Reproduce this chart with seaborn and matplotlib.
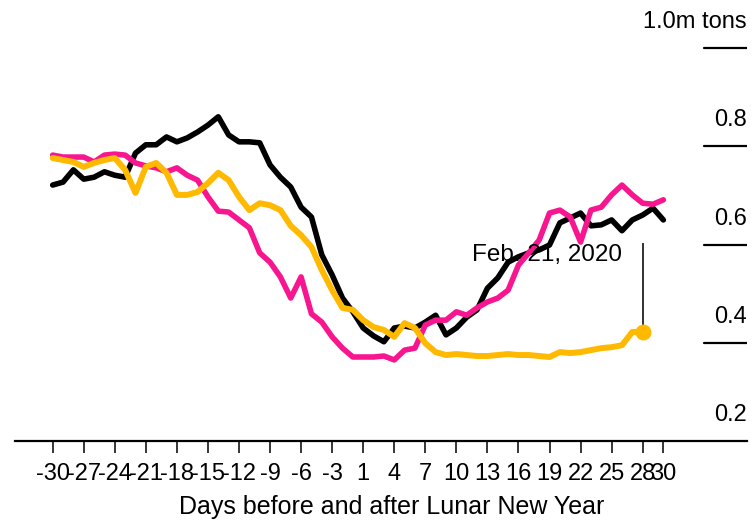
import numpy as np
import pandas as pd
import seaborn as sns
import matplotlib.pyplot as plt
import matplotlib.transforms as mtransforms

# days around Lunar New Year (there is no day 0)
days = list(range(-30, 0)) + list(range(1, 31))
pos = list(range(len(days)))

# million tons per day
black = [0.721, 0.727, 0.752, 0.733, 0.737, 0.748, 0.741, 0.737, 0.786, 0.803,
         0.803, 0.819, 0.809, 0.817, 0.829, 0.843, 0.860, 0.823, 0.809, 0.809,
         0.807, 0.762, 0.737, 0.717, 0.676, 0.656, 0.579, 0.538, 0.491, 0.463,
         0.430, 0.414, 0.402, 0.430, 0.434, 0.430, 0.442, 0.456, 0.416, 0.430,
         0.452, 0.467, 0.511, 0.532, 0.564, 0.575, 0.583, 0.589, 0.599, 0.644,
         0.654, 0.664, 0.638, 0.640, 0.650, 0.628, 0.650, 0.660, 0.674, 0.650]
magenta = [0.782, 0.778, 0.778, 0.778, 0.768, 0.782, 0.784, 0.782, 0.766, 0.760,
           0.756, 0.748, 0.756, 0.741, 0.731, 0.697, 0.668, 0.666, 0.650, 0.634,
           0.583, 0.564, 0.534, 0.491, 0.534, 0.459, 0.442, 0.412, 0.389, 0.371,
           0.371, 0.371, 0.373, 0.365, 0.385, 0.389, 0.436, 0.446, 0.446, 0.463,
           0.456, 0.471, 0.483, 0.491, 0.507, 0.558, 0.583, 0.609, 0.664, 0.670,
           0.656, 0.605, 0.670, 0.676, 0.701, 0.721, 0.701, 0.684, 0.682, 0.691]
yellow = [0.776, 0.772, 0.768, 0.758, 0.766, 0.772, 0.776, 0.752, 0.705, 0.758,
          0.766, 0.746, 0.701, 0.701, 0.707, 0.725, 0.746, 0.731, 0.697, 0.670,
          0.684, 0.680, 0.670, 0.638, 0.619, 0.595, 0.548, 0.507, 0.471, 0.467,
          0.446, 0.432, 0.426, 0.412, 0.440, 0.430, 0.399, 0.381, 0.375, 0.377,
          0.375, 0.373, 0.373, 0.375, 0.377, 0.375, 0.375, 0.373, 0.371, 0.381,
          0.379, 0.381, 0.385, 0.389, 0.391, 0.395, 0.422, 0.422, np.nan, np.nan]

ytick_vals = [0.2, 0.4, 0.6, 0.8, 1.0]
ytick_labels = ["0.2", "0.4", "0.6", "0.8", "1.0m tons"]
note_text = "Feb. 21, 2020"
note_top = 0.603

df = pd.DataFrame({"pos": pos, "day": days, "black": black,
                   "magenta": magenta, "yellow": yellow})

sns.set_style("white")
plt.rcParams['font.family'] = ['Liberation Sans', 'DejaVu Sans']
plt.rcParams['text.color'] = 'black'
plt.rcParams['axes.labelcolor'] = 'black'

fig = plt.figure(figsize=(7.53, 5.23), dpi=100)
ax = fig.add_axes([15 / 753, 82 / 523, 732 / 753, 441 / 523])

sns.lineplot(data=df, x="pos", y="black", color="black", linewidth=4, ax=ax)
sns.lineplot(data=df, x="pos", y="magenta", color="#f7168f", linewidth=4, ax=ax)
sns.lineplot(data=df, x="pos", y="yellow", color="#ffb900", linewidth=4.3, ax=ax)

# Feb. 21, 2020 marker
last = df.dropna(subset=["yellow"]).iloc[-1]
ax.scatter(last["pos"], last["yellow"], s=110, color="#ffb900", zorder=5)
ax.vlines(last["pos"], last["yellow"], note_top, color="#222222", lw=1.3)
ax.text(47.76, 0.579, note_text, ha="center", va="center", fontsize=17.5, zorder=6)

ax.set_xlim(-3.64, 67.08)
ax.set_ylim(0.2, 0.2 + 441 / 491.25)

# x ticks every third day plus the last day
tick_idx = list(range(0, 58, 3)) + [59]
ax.set_xticks(tick_idx)
ax.set_xticklabels([str(days[i]) for i in tick_idx])
ax.tick_params(axis="x", direction="out", length=8.6, width=1.1, pad=7,
               labelsize=17, bottom=True, colors="black")
ax.set_yticks([])
ax.set_xlabel("Days before and after Lunar New Year", fontsize=18)
ax.xaxis.set_label_coords((392 - 15) / 732, -0.122)
ax.set_ylabel("")

for s in ["top", "left", "right"]:
    ax.spines[s].set_visible(False)
ax.spines["bottom"].set_linewidth(1.6)
ax.spines["bottom"].set_color("black")

# right-side value labels with short rules under them
trans = mtransforms.blended_transform_factory(ax.transAxes, ax.transData)
for v, lab in zip(ytick_vals, ytick_labels):
    if v > 0.2:
        ax.axhline(v, xmin=(704 - 15) / 732, xmax=1, color="black", lw=1.6)
    ax.annotate(lab, xy=(1, v), xycoords=trans, xytext=(0, 18.7),
                textcoords="offset points", ha="right", va="center", fontsize=17)

fig.savefig("out.png", dpi=100)
